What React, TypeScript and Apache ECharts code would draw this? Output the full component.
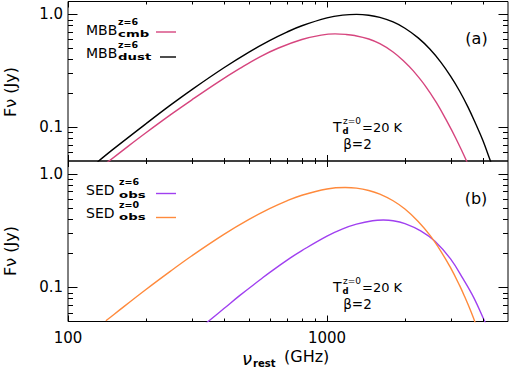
import React, { useEffect, useRef } from 'react';
import * as echarts from 'echarts';

// ---------- data ----------
// Panel (a): MBB at z=6, dust (black) and with CMB effect (pink)
const dustNu = [130, 150, 200, 250, 300, 400, 500, 600, 700, 800, 1000, 1150, 1300, 1450, 1600, 1800, 2000, 2250, 2500, 2750, 3000, 3250, 3500, 3750, 4000, 4250, 4450];
const dustFlux = [0.049, 0.064, 0.107, 0.158, 0.214, 0.336, 0.463, 0.585, 0.696, 0.792, 0.93, 0.984, 1.0, 0.983, 0.94, 0.856, 0.753, 0.618, 0.49, 0.377, 0.283, 0.209, 0.151, 0.107, 0.076, 0.052, 0.039];
const cmbNu = [140, 170, 200, 250, 300, 380, 461, 551, 650, 800, 950, 1074, 1180, 1279, 1450, 1600, 1800, 2000, 2150, 2400, 2650, 2900, 3150, 3460, 3650];
const cmbFlux = [0.0475, 0.0671, 0.089, 0.1295, 0.1736, 0.2504, 0.331, 0.42, 0.503, 0.598, 0.6546, 0.671, 0.664, 0.6484, 0.604, 0.5487, 0.4637, 0.3766, 0.3166, 0.2312, 0.1636, 0.1134, 0.0788, 0.05, 0.0373];

// Panel (b): observed SEDs at z=6 (purple) and z=0 (orange)
const obs6Nu = [340, 400, 461, 550, 600, 720, 800, 1000, 1150, 1300, 1500, 1650, 1800, 2000, 2300, 2612, 3000, 3360, 3700, 4050, 4200];
const obs6Flux = [0.048, 0.065, 0.085, 0.116, 0.135, 0.181, 0.211, 0.283, 0.328, 0.361, 0.387, 0.392, 0.387, 0.365, 0.315, 0.255, 0.178, 0.118, 0.08, 0.051, 0.043];
const obs0Nu = [140, 150, 200, 250, 300, 400, 500, 600, 700, 800, 1000, 1175, 1300, 1450, 1600, 1800, 2000, 2250, 2500, 2750, 3000, 3250, 3400, 3600, 3800];
const obs0Flux = [0.0507, 0.0574, 0.0957, 0.14, 0.189, 0.293, 0.397, 0.494, 0.579, 0.649, 0.736, 0.758, 0.749, 0.715, 0.664, 0.58, 0.49, 0.381, 0.287, 0.209, 0.149, 0.104, 0.083, 0.061, 0.044];

// axis ticks
const xMajorTicks = [100, 1000];
const xMinorTicks = [200, 300, 400, 500, 600, 700, 800, 900, 2000, 3000, 4000];
const yMajorTicks = [0.1, 1];
const yMinorTicks = [0.06, 0.07, 0.08, 0.09, 0.2, 0.3, 0.4, 0.5, 0.6, 0.7, 0.8, 0.9];
const xLabelValues = [100, 1000];
const yLabelValues = [0.1, 1];
const yLabelTexts = ['0.1', '1.0'];

const X_MIN = 100;
const X_MAX = 5000;
const Y_MIN = 0.05;
const Y_MAX = 1.3;

const FONT = 'DejaVu Sans';
const PINK = '#d6457e';
const PURPLE = '#a040f0';
const ORANGE = '#ff8a3c';

const zip = (a: number[], b: number[]) => a.map((v, i) => [v, b[i]]);
const near = (a: number, b: number) => Math.abs(Math.log10(a) - Math.log10(b)) < 1e-4;

function xTickSeries(g: number) {
  return {
    type: 'custom',
    xAxisIndex: g,
    yAxisIndex: g,
    silent: true,
    z: 10,
    data: [...xMajorTicks.map((v) => [v, 0.1, 1]), ...xMinorTicks.map((v) => [v, 0.1, 0])],
    renderItem: (params: any, api: any) => {
      const cs = params.coordSys;
      const px = Math.round(api.coord([api.value(0), api.value(1)])[0]) + 0.5;
      const len = api.value(2) ? 6 : 3;
      const bottom = cs.y + cs.height;
      return {
        type: 'group',
        children: [
          { type: 'line', shape: { x1: px, y1: bottom, x2: px, y2: bottom - len }, style: { stroke: '#000', lineWidth: 1 } },
          { type: 'line', shape: { x1: px, y1: cs.y, x2: px, y2: cs.y + len }, style: { stroke: '#000', lineWidth: 1 } },
        ],
      };
    },
  };
}

function yTickSeries(g: number) {
  return {
    type: 'custom',
    xAxisIndex: g,
    yAxisIndex: g,
    silent: true,
    z: 10,
    data: [...yMajorTicks.map((v) => [1000, v, 1]), ...yMinorTicks.map((v) => [1000, v, 0])],
    renderItem: (params: any, api: any) => {
      const cs = params.coordSys;
      const py = Math.round(api.coord([api.value(0), api.value(1)])[1]) + 0.5;
      const len = api.value(2) ? 9.5 : 5;
      const right = cs.x + cs.width;
      return {
        type: 'group',
        children: [
          { type: 'line', shape: { x1: cs.x, y1: py, x2: cs.x + len, y2: py }, style: { stroke: '#000', lineWidth: 1 } },
          { type: 'line', shape: { x1: right, y1: py, x2: right - len, y2: py }, style: { stroke: '#000', lineWidth: 1 } },
        ],
      };
    },
  };
}

function lineSeries(g: number, name: string, nu: number[], f: number[], color: string) {
  return {
    type: 'line',
    name,
    xAxisIndex: g,
    yAxisIndex: g,
    data: zip(nu, f),
    showSymbol: false,
    smooth: 0.4,
    clip: true,
    lineStyle: { color, width: 1.4 },
    itemStyle: { color },
    z: 5,
  };
}

function txt(x: number, y: number, text: string, size: number, o: any = {}) {
  const align = o.align || 'left';
  return {
    type: 'text',
    x,
    y,
    scaleX: o.sx || 1,
    rotation: o.rot || 0,
    silent: true,
    z: 20,
    style: {
      text,
      fontSize: size,
      fontFamily: FONT,
      fontWeight: o.bold ? 'bold' : 'normal',
      fontStyle: o.italic ? 'italic' : 'normal',
      fill: '#000',
      align,
      textAlign: align,
      verticalAlign: 'middle',
      textVerticalAlign: 'middle',
    },
  };
}

function hline(x1: number, x2: number, y: number, color: string) {
  return { type: 'line', silent: true, z: 20, shape: { x1, y1: y, x2, y2: y }, style: { stroke: color, lineWidth: 1.4 } };
}

function buildOption() {
  const grids = [
    { left: 68, top: 1.5, width: 440, height: 159.5 },
    { left: 68, top: 161, width: 440, height: 160.5 },
  ].map((g) => ({ ...g, show: true, borderColor: '#000', borderWidth: 1, backgroundColor: 'transparent', containLabel: false }));

  const xAxes = [0, 1].map((g) => ({
    type: 'log',
    logBase: 10,
    gridIndex: g,
    min: X_MIN,
    max: X_MAX,
    axisLine: { show: false },
    axisTick: { show: false },
    splitLine: { show: false },
    axisLabel: {
      show: g === 1,
      margin: 9,
      fontSize: 15,
      fontFamily: FONT,
      color: '#000',
      showMaxLabel: false,
      formatter: (v: number) => {
        const hit = xLabelValues.find((t) => near(t, v));
        return hit !== undefined ? String(hit) : '';
      },
    },
  }));

  const yAxes = [0, 1].map((g) => ({
    type: 'log',
    logBase: 10,
    gridIndex: g,
    min: Y_MIN,
    max: Y_MAX,
    axisLine: { show: false },
    axisTick: { show: false },
    splitLine: { show: false },
    axisLabel: {
      margin: 5,
      fontSize: 15,
      fontFamily: FONT,
      color: '#000',
      formatter: (v: number) => {
        const i = yLabelValues.findIndex((t) => near(t, v));
        return i >= 0 ? yLabelTexts[i] : '';
      },
    },
  }));

  const series = [
    lineSeries(0, 'MBB cmb', cmbNu, cmbFlux, PINK),
    lineSeries(0, 'MBB dust', dustNu, dustFlux, '#000'),
    lineSeries(1, 'SED obs z=6', obs6Nu, obs6Flux, PURPLE),
    lineSeries(1, 'SED obs z=0', obs0Nu, obs0Flux, ORANGE),
    xTickSeries(0),
    xTickSeries(1),
    yTickSeries(0),
    yTickSeries(1),
  ];

  const SX = 1.4;
  const graphics: any[] = [
    // y axis titles
    txt(10, 92, 'Fν (Jy)', 16, { align: 'center', rot: Math.PI / 2 }),
    txt(10, 251, 'Fν (Jy)', 16, { align: 'center', rot: Math.PI / 2 }),
    // x axis title
    txt(242, 358.7, 'ν', 18, { italic: true }),
    txt(253, 363.5, 'rest', 10, { bold: true }),
    txt(284, 356.5, '(GHz)', 16),
    // panel labels
    txt(476.5, 38.5, '(a)', 16, { align: 'center' }),
    txt(476, 198.5, '(b)', 16, { align: 'center' }),
    // top legend
    txt(86, 30, 'MBB', 14),
    txt(118, 21.5, 'z=6', 9.5, { bold: true }),
    txt(118, 34, 'cmb', 9.5, { bold: true, sx: SX }),
    hline(156, 176, 32, PINK),
    txt(86, 53, 'MBB', 14),
    txt(118, 44.5, 'z=6', 9.5, { bold: true }),
    txt(118, 57, 'dust', 9.5, { bold: true, sx: SX }),
    hline(160, 176, 57, '#000'),
    // bottom legend
    txt(86, 190, 'SED', 14),
    txt(119, 181.5, 'z=6', 9.5, { bold: true }),
    txt(119, 194.5, 'obs', 9.5, { bold: true, sx: SX }),
    hline(156, 176, 193.5, PURPLE),
    txt(86, 212.5, 'SED', 14),
    txt(119, 204, 'z=0', 9.5, { bold: true }),
    txt(119, 217, 'obs', 9.5, { bold: true, sx: SX }),
    hline(156, 176, 217.5, ORANGE),
  ];

  // temperature annotations
  [0, 160].forEach((dy) => {
    graphics.push(txt(333, 127 + dy, 'T', 14));
    graphics.push(txt(342.5, 130.5 + dy, 'd', 8.5, { bold: true }));
    graphics.push(txt(343, 120.5 + dy, 'z=0', 9));
    graphics.push(txt(362, 127 + dy, '=20 K', 13));
    graphics.push(txt(357.5, 143.5 + dy, 'β=2', 13.5, { align: 'center' }));
  });

  return {
    animation: false,
    backgroundColor: '#fff',
    grid: grids,
    xAxis: xAxes,
    yAxis: yAxes,
    series,
    graphic: { elements: graphics },
  };
}

export default function App() {
  const ref = useRef<HTMLDivElement>(null);
  useEffect(() => {
    const chart = echarts.init(ref.current!, undefined, { renderer: 'svg' });
    chart.setOption(buildOption() as any);
    return () => chart.dispose();
  }, []);
  return (
    <div
      ref={ref}
      style={{ position: 'fixed', left: 0, top: 0, width: 510, height: 368, background: '#fff' }}
    />
  );
}
